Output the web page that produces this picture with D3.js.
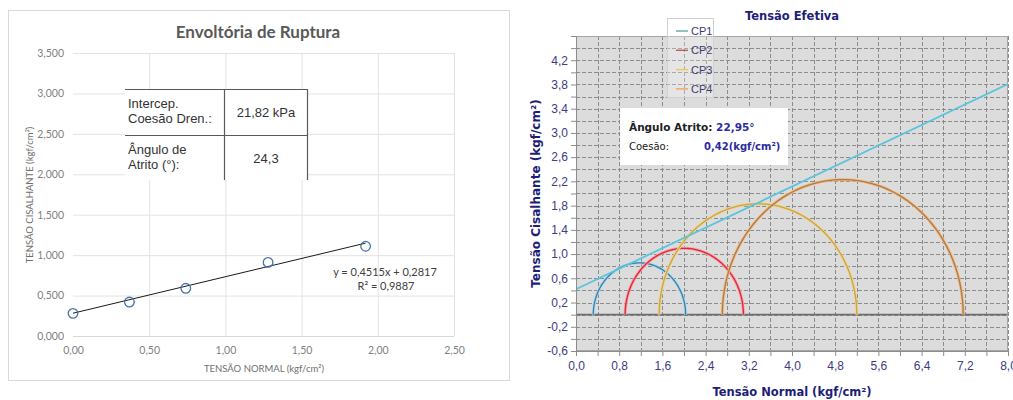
<!DOCTYPE html>
<html>
<head>
<meta charset="utf-8">
<script src="https://cdn.jsdelivr.net/npm/d3@7"></script>
<style>
  body { margin: 0; background: #ffffff; }
</style>
</head>
<body>
<svg id="chart" width="1013" height="400"></svg>
<script>
//Left chart data (Envoltória de Ruptura)
var normalStress = [0.00, 0.37, 0.74, 1.28, 1.92];
var shearStress = [0.28, 0.42, 0.59, 0.91, 1.11];
var trendSlope = 0.4515;
var trendIntercept = 0.2817;
var trendR2 = 0.9887;
var leftXTicks = [0, 0.5, 1.0, 1.5, 2.0, 2.5];
var leftYTicks = [0, 0.5, 1.0, 1.5, 2.0, 2.5, 3.0, 3.5];
var tableLabels = [["Intercep.", "Coesão Dren.:"], ["Ângulo de", "Atrito (°):"]];
var tableValues = ["21,82 kPa", "24,3"];

//Right chart data (Tensão Efetiva, Mohr circles)
var specimens = ["CP1", "CP2", "CP3", "CP4"];
var sigma3 = [0.32, 0.91, 1.54, 2.71];
var sigma1 = [2.03, 3.10, 5.20, 7.17];
var frictionAngle = 22.95;
var cohesion = 0.42;
var rightXTicks = d3.range(0, 8.01, 0.4);
var rightYTicks = d3.range(-0.6, 4.61, 0.2);
var rightYLabels = [-0.6, -0.2, 0.2, 0.6, 1.0, 1.4, 1.8, 2.2, 2.6, 3.0, 3.4, 3.8, 4.2];
var rightXLabels = [0, 0.8, 1.6, 2.4, 3.2, 4.0, 4.8, 5.6, 6.4, 7.2, 8.0];

//Styles
var circleColors = ["#3d7fa8", "#e0263c", "#c9a544", "#a97c52"];
var haloColors = ["#a6dbee", "#f4a0a0", "#efd590", "#f6b878"];
var legendColors = ["#5f9ea0", "#c0504d", "#e8cb50", "#f0a050"];

var ptLocale = d3.formatLocale({ decimal: ",", thousands: ".", grouping: [3], currency: ["", ""], minus: "-" });

var svg = d3.select("#chart");

//----- Left chart -----
var left = {
  x: d3.scaleLinear().domain([0, 2.5]).range([73, 454]),
  y: d3.scaleLinear().domain([0, 3.5]).range([336, 53]),
  init() {
    var g = svg.append("g").attr("class", "left");
    var x = this.x, y = this.y;

    //Frame
    g.append("rect")
      .attr("x", 8.5).attr("y", 10.5)
      .attr("width", 501).attr("height", 370)
      .attr("fill", "#ffffff")
      .attr("stroke", "#d9d9d9");

    //Title
    g.append("text")
      .attr("x", 258).attr("y", 38)
      .attr("text-anchor", "middle")
      .style("font-family", "Lato, 'Open Sans', sans-serif")
      .style("font-size", "17px")
      .style("font-weight", "bold")
      .style("fill", "#595959")
      .text("Envoltória de Ruptura");

    //Gridlines
    g.append("g").selectAll("line")
      .data(leftYTicks.slice(1))
      .join("line")
      .attr("x1", x(0)).attr("x2", x(2.5))
      .attr("y1", d => y(d) + 0.5).attr("y2", d => y(d) + 0.5)
      .attr("stroke", "#e3e3e3");
    g.append("g").selectAll("line")
      .data(leftXTicks.slice(1))
      .join("line")
      .attr("x1", d => x(d) + 0.5).attr("x2", d => x(d) + 0.5)
      .attr("y1", y(3.5)).attr("y2", y(0))
      .attr("stroke", "#e3e3e3");
    g.append("line")
      .attr("x1", x(0)).attr("x2", x(2.5))
      .attr("y1", y(0) + 0.5).attr("y2", y(0) + 0.5)
      .attr("stroke", "#d9d9d9");

    //Axes
    var fy = ptLocale.format(".3f");
    var fx = ptLocale.format(".2f");
    var yAxis = g.append("g")
      .attr("transform", `translate(${x(0) - 6},0)`)
      .call(d3.axisLeft(y).tickValues(leftYTicks).tickSize(0).tickFormat(fy));
    var xAxis = g.append("g")
      .attr("transform", `translate(0,${y(0) + 8})`)
      .call(d3.axisBottom(x).tickValues(leftXTicks).tickSize(0).tickFormat(fx));
    [yAxis, xAxis].forEach(a => {
      a.select(".domain").remove();
      a.selectAll("text")
        .style("font-family", "Lato, sans-serif")
        .style("font-size", "10.5px")
        .style("fill", "#7f7f7f");
    });

    //Axis titles
    g.append("text")
      .attr("x", 264).attr("y", 372)
      .attr("text-anchor", "middle")
      .style("font-family", "Lato, sans-serif")
      .style("font-size", "9.5px")
      .style("fill", "#6f6f6f")
      .text("TENSÃO NORMAL (kgf/cm²)");
    g.append("text")
      .attr("transform", "translate(33,195) rotate(-90)")
      .attr("text-anchor", "middle")
      .style("font-family", "Lato, sans-serif")
      .style("font-size", "9.5px")
      .style("fill", "#6f6f6f")
      .text("TENSÃO CISALHANTE (kgf/cm²)");

    //Trendline
    var xMax = d3.max(normalStress);
    g.append("line")
      .attr("x1", x(0)).attr("y1", y(trendIntercept))
      .attr("x2", x(xMax)).attr("y2", y(trendIntercept + trendSlope * xMax))
      .attr("stroke", "#1a1a1a")
      .attr("stroke-width", 1);

    //Points
    g.append("g").selectAll("circle")
      .data(normalStress)
      .join("circle")
      .attr("cx", d => x(d))
      .attr("cy", (d, i) => y(shearStress[i]))
      .attr("r", 4.8)
      .attr("fill", "none")
      .attr("stroke", "#4472a8")
      .attr("stroke-width", 1.3);

    //Equation
    var eq = g.append("text")
      .style("font-family", "Lato, sans-serif")
      .style("font-size", "11px")
      .style("fill", "#404040")
      .attr("text-anchor", "middle");
    eq.append("tspan").attr("x", 385).attr("y", 276)
      .text(`y = ${ptLocale.format(".4f")(trendSlope)}x + ${ptLocale.format(".4f")(trendIntercept)}`);
    eq.append("tspan").attr("x", 386).attr("y", 290)
      .text(`R² = ${ptLocale.format(".4f")(trendR2)}`);

    //Table
    var t = g.append("g");
    t.append("rect")
      .attr("x", 125).attr("y", 89)
      .attr("width", 183).attr("height", 91)
      .attr("fill", "#ffffff");
    var border = [[125, 89.5, 308, 89.5], [125, 135.5, 308, 135.5],
                  [224.5, 89, 224.5, 180], [307.5, 89, 307.5, 180]];
    t.selectAll("line")
      .data(border)
      .join("line")
      .attr("x1", d => d[0]).attr("y1", d => d[1])
      .attr("x2", d => d[2]).attr("y2", d => d[3])
      .attr("stroke", "#595959")
      .attr("stroke-width", 1.2);
    tableLabels.forEach((rows, i) => {
      var top = 89 + i * 46;
      var txt = t.append("text")
        .style("font-family", "'Liberation Sans', Arial, sans-serif")
        .style("font-size", "13px")
        .style("fill", "#333333");
      rows.forEach((r, j) => {
        txt.append("tspan").attr("x", 128).attr("y", top + 19 + j * 15).text(r);
      });
      t.append("text")
        .attr("x", 266).attr("y", top + 28)
        .attr("text-anchor", "middle")
        .style("font-family", "'Liberation Sans', Arial, sans-serif")
        .style("font-size", "13px")
        .style("fill", "#333333")
        .text(tableValues[i]);
    });
  }
};

//----- Right chart -----
var right = {
  x: d3.scaleLinear().domain([0, 8]).range([576, 1008]),
  y: d3.scaleLinear().domain([-0.6, 4.6]).range([351, 36]),
  init() {
    var g = svg.append("g").attr("class", "right");
    var x = this.x, y = this.y;
    var navy = "#1e1e78";

    //Title
    g.append("text")
      .attr("x", 792).attr("y", 20)
      .attr("text-anchor", "middle")
      .style("font-family", "'DejaVu Sans', Verdana, sans-serif")
      .style("font-size", "11.5px")
      .style("font-weight", "bold")
      .style("fill", navy)
      .text("Tensão Efetiva");

    //Plot background
    g.append("rect")
      .attr("x", x(0)).attr("y", y(4.6))
      .attr("width", x(8) - x(0)).attr("height", y(-0.6) - y(4.6))
      .attr("fill", "#dcdcdc");

    g.append("clipPath").attr("id", "plotClip")
      .append("rect")
      .attr("x", x(0)).attr("y", y(4.6))
      .attr("width", x(8) - x(0)).attr("height", y(-0.6) - y(4.6));

    //Grid
    g.append("g").selectAll("line")
      .data(rightXTicks)
      .join("line")
      .attr("x1", d => Math.round(x(d)) + 0.5).attr("x2", d => Math.round(x(d)) + 0.5)
      .attr("y1", y(4.6)).attr("y2", y(-0.6))
      .attr("stroke", "#8c8c8c")
      .attr("stroke-dasharray", "4,2");
    g.append("g").selectAll("line")
      .data(rightYTicks)
      .join("line")
      .attr("x1", x(0)).attr("x2", x(8))
      .attr("y1", d => Math.round(y(d)) + 0.5).attr("y2", d => Math.round(y(d)) + 0.5)
      .attr("stroke", "#8c8c8c")
      .attr("stroke-dasharray", "4,2");

    //Zero line
    g.append("line")
      .attr("x1", x(0)).attr("x2", x(8))
      .attr("y1", y(0)).attr("y2", y(0))
      .attr("stroke", "#6e6e6e")
      .attr("stroke-width", 1.6);

    var plot = g.append("g").attr("clip-path", "url(#plotClip)");

    //Mohr circles (upper halves)
    var angles = d3.range(0, 181, 2);
    var arcLine = d3.line().x(d => x(d[0])).y(d => y(d[1]));
    specimens.forEach((name, i) => {
      var c = (sigma1[i] + sigma3[i]) / 2;
      var r = (sigma1[i] - sigma3[i]) / 2;
      var pts = angles.map(a => [c + r * Math.cos(a * Math.PI / 180), r * Math.sin(a * Math.PI / 180)]);
      plot.append("path")
        .attr("d", arcLine(pts))
        .attr("fill", "none")
        .attr("stroke", haloColors[i])
        .attr("stroke-width", 3);
      plot.append("path")
        .attr("d", arcLine(pts))
        .attr("fill", "none")
        .attr("stroke", circleColors[i])
        .attr("stroke-width", 1.3);
    });

    //Failure envelope
    var tanPhi = Math.tan(frictionAngle * Math.PI / 180);
    plot.append("line")
      .attr("x1", x(0)).attr("y1", y(cohesion))
      .attr("x2", x(8)).attr("y2", y(cohesion + tanPhi * 8))
      .attr("stroke", "#5cc3de")
      .attr("stroke-width", 1.8);

    //Plot border
    g.append("rect")
      .attr("x", x(0) + 0.5).attr("y", y(4.6) + 0.5)
      .attr("width", x(8) - x(0) - 1).attr("height", y(-0.6) - y(4.6) - 1)
      .attr("fill", "none")
      .attr("stroke", "#a6a6a6");

    //Axes
    var f1 = ptLocale.format(".1f");
    var hasLabel = (list, d) => list.some(v => Math.abs(v - d) < 1e-6);
    var yAxis = g.append("g")
      .attr("transform", `translate(${x(0)},0)`)
      .call(d3.axisLeft(y).tickValues(rightYTicks).tickSize(5).tickPadding(3)
        .tickFormat(d => hasLabel(rightYLabels, d) ? f1(d) : ""));
    var xAxis = g.append("g")
      .attr("transform", `translate(0,${y(-0.6)})`)
      .call(d3.axisBottom(x).tickValues(rightXTicks).tickSize(5).tickPadding(5)
        .tickFormat(d => hasLabel(rightXLabels, d) ? f1(d) : ""));
    [yAxis, xAxis].forEach(a => {
      a.select(".domain").attr("stroke", "#8c8c8c");
      a.selectAll(".tick line").attr("stroke", "#8c8c8c");
      a.selectAll("text")
        .style("font-family", "'Liberation Sans', Arial, sans-serif")
        .style("font-size", "12px")
        .style("fill", "#3c3c82");
    });

    //Axis titles
    g.append("text")
      .attr("x", 792).attr("y", 396)
      .attr("text-anchor", "middle")
      .style("font-family", "'DejaVu Sans', Verdana, sans-serif")
      .style("font-size", "11.5px")
      .style("font-weight", "bold")
      .style("fill", navy)
      .text("Tensão Normal (kgf/cm²)");
    g.append("text")
      .attr("transform", `translate(540,${(y(4.6) + y(-0.6)) / 2}) rotate(-90)`)
      .attr("text-anchor", "middle")
      .style("font-family", "'DejaVu Sans', Verdana, sans-serif")
      .style("font-size", "12px")
      .style("font-weight", "bold")
      .style("fill", navy)
      .text("Tensão Cisalhante (kgf/cm²)");

    //Legend
    var lg = g.append("g");
    lg.append("rect")
      .attr("x", 667.5).attr("y", 18.5)
      .attr("width", 46).attr("height", 79)
      .attr("fill", "#ffffff").attr("fill-opacity", 0.25)
      .attr("stroke", "#d0d0d0");
    specimens.forEach((name, i) => {
      var ly = 31 + i * 19.3;
      lg.append("line")
        .attr("x1", 676).attr("x2", 688)
        .attr("y1", ly).attr("y2", ly)
        .attr("stroke", legendColors[i])
        .attr("stroke-width", 1.3);
      lg.append("text")
        .attr("x", 691).attr("y", ly + 4)
        .style("font-family", "'Liberation Sans', Arial, sans-serif")
        .style("font-size", "11px")
        .style("fill", "#3c3c6e")
        .text(name);
    });

    //Info box
    var ib = g.append("g");
    ib.append("rect")
      .attr("x", 620).attr("y", 108)
      .attr("width", 168).attr("height", 57)
      .attr("fill", "#ffffff");
    var t1 = ib.append("text")
      .attr("x", 629).attr("y", 131)
      .style("font-family", "'DejaVu Sans', Tahoma, sans-serif")
      .style("font-size", "10.5px")
      .style("font-weight", "bold");
    t1.append("tspan").style("fill", "#202020").text("Ângulo Atrito: ");
    t1.append("tspan").style("fill", "#2b2ba0").text(ptLocale.format(".2f")(frictionAngle) + "°");
    ib.append("text")
      .attr("x", 629).attr("y", 150)
      .style("font-family", "'DejaVu Sans', Tahoma, sans-serif")
      .style("font-size", "10px")
      .style("fill", "#202020")
      .text("Coesão:");
    ib.append("text")
      .attr("x", 704).attr("y", 150)
      .style("font-family", "'DejaVu Sans', Tahoma, sans-serif")
      .style("font-size", "10px")
      .style("font-weight", "bold")
      .style("fill", "#2b2ba0")
      .text(ptLocale.format(".2f")(cohesion) + "(kgf/cm²)");
  }
};

//Run
left.init();
right.init();
</script>
</body>
</html>
